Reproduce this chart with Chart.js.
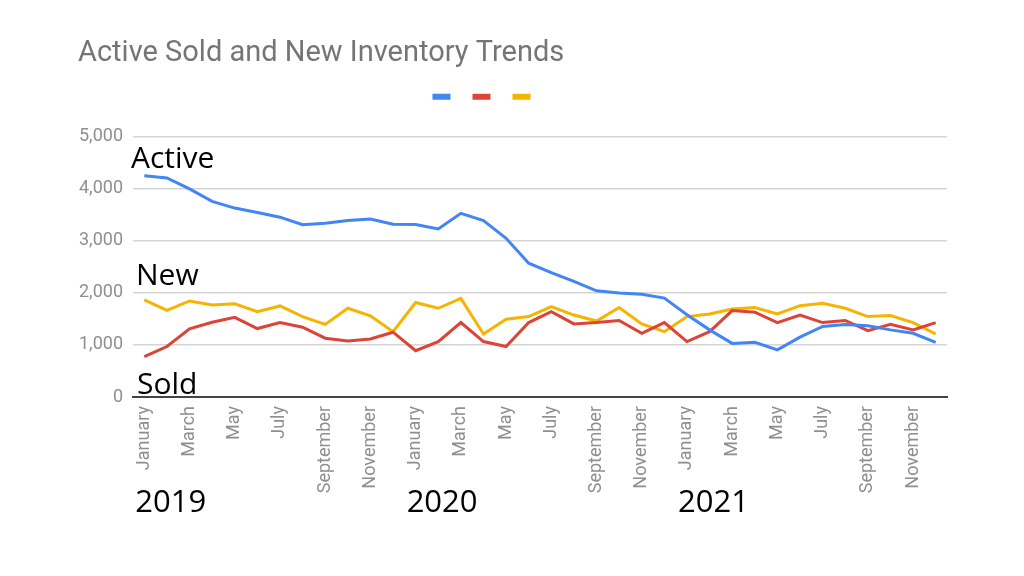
<!DOCTYPE html>
<html>
<head>
<meta charset="utf-8">
<script src="https://cdn.jsdelivr.net/npm/chart.js@4.4.1/dist/chart.umd.min.js"></script>
<style>
  html, body { margin: 0; padding: 0; background: #fff; }
  #wrap { width: 1024px; height: 576px; position: relative; }
</style>
</head>
<body>
<div id="wrap"><canvas id="grafico"></canvas></div>
<script>
const anos = ["2019", "2020", "2021"];
const meses = ["January", "February", "March", "April", "May", "June",
    "July", "August", "September", "October", "November", "December"];

const active = [4250, 4210, 4000, 3760, 3630, 3545, 3455, 3310, 3340, 3390, 3420, 3320,
    3315, 3230, 3530, 3390, 3050, 2570, 2390, 2220, 2040, 2000, 1975, 1900,
    1580, 1290, 1030, 1050, 905, 1150, 1355, 1395, 1370, 1290, 1225, 1050];
const sold = [775, 970, 1310, 1435, 1530, 1315, 1430, 1340, 1130, 1075, 1115, 1245,
    890, 1065, 1430, 1065, 970, 1430, 1640, 1405, 1430, 1470, 1225, 1430,
    1065, 1255, 1660, 1630, 1430, 1575, 1430, 1470, 1275, 1395, 1290, 1430];
const novos = [1865, 1665, 1845, 1770, 1790, 1640, 1750, 1545, 1395, 1705, 1560, 1255,
    1815, 1705, 1895, 1210, 1495, 1545, 1735, 1575, 1460, 1720, 1405, 1255,
    1545, 1595, 1690, 1720, 1595, 1755, 1800, 1705, 1545, 1565, 1430, 1210];

const yTicks = [0, 1000, 2000, 3000, 4000, 5000];

// rotulos escritos por cima do grafico
const rotulosSeries = [
    { texto: "Active", valor: 4400, dx: -2 },
    { texto: "New", valor: 2150, dx: 3 },
    { texto: "Sold", valor: 60, dx: 4 }
];

const labels = anos.flatMap(() => meses);

const cinza = "#8f8f8f";

// espaco extra abaixo da legenda e legenda um pouco para a esquerda
const ajusteLegenda = {
    id: "ajusteLegenda",
    beforeLayout(chart) {
        const legend = chart.legend;
        if (legend && !legend._ajustado) {
            const fitOriginal = legend.fit;
            legend.fit = function () {
                fitOriginal.call(this);
                this.height += 24;
            };
            legend._ajustado = true;
        }
    },
    afterLayout(chart) {
        if (chart.legend) {
            chart.legend.left -= 28;
            chart.legend.right -= 28;
        }
    }
};

const textos = {
    id: "textos",
    afterDatasetsDraw(chart) {
        const ctx = chart.ctx;
        const x = chart.scales.x;
        const y = chart.scales.y;
        const area = chart.chartArea;
        ctx.save();
        ctx.fillStyle = "#000";
        ctx.textBaseline = "alphabetic";
        ctx.textAlign = "left";
        ctx.font = "30px 'Open Sans'";
        rotulosSeries.forEach(r => {
            ctx.fillText(r.texto, area.left + r.dx, y.getPixelForValue(r.valor));
        });
        ctx.font = "31px 'Open Sans'";
        anos.forEach((ano, i) => {
            ctx.fillText(ano, x.getPixelForValue(i * 12) - 9, area.bottom + 115);
        });
        ctx.restore();
    }
};

let grafico = new Chart(document.getElementById("grafico"), {
    type: "line",
    data: {
        labels: labels,
        datasets: [{
            label: "Active",
            data: active,
            borderColor: "#4285f4",
            backgroundColor: "#4285f4"
        }, {
            label: "Sold",
            data: sold,
            borderColor: "#db4437",
            backgroundColor: "#db4437"
        }, {
            label: "New",
            data: novos,
            borderColor: "#f4b400",
            backgroundColor: "#f4b400"
        }]
    },
    options: {
        responsive: true,
        maintainAspectRatio: false,
        animation: false,
        elements: {
            line: { borderWidth: 3, tension: 0 },
            point: { radius: 0 }
        },
        layout: {
            padding: { left: 78, right: 77, top: 0, bottom: 0 }
        },
        plugins: {
            title: {
                display: true,
                text: "Active Sold and New Inventory Trends",
                align: "start",
                color: "#757575",
                font: { family: "Roboto", size: 29, weight: "normal" },
                padding: { top: 36, bottom: 4 }
            },
            legend: {
                display: true,
                labels: {
                    boxWidth: 18,
                    boxHeight: 6,
                    padding: 16,
                    font: { size: 12 },
                    generateLabels: function (chart) {
                        return Chart.defaults.plugins.legend.labels.generateLabels(chart)
                            .map(item => Object.assign(item, { text: "", lineWidth: 0 }));
                    }
                }
            },
            tooltip: { enabled: false }
        },
        scales: {
            x: {
                offset: true,
                grid: { display: false, drawTicks: false },
                border: { display: true, color: "#444", width: 2 },
                afterFit: function (scale) { scale.height = 179; },
                ticks: {
                    autoSkip: false,
                    maxRotation: 90,
                    minRotation: 90,
                    padding: 9,
                    color: cinza,
                    font: { family: "Roboto", size: 18 },
                    callback: function (value, index) {
                        return index % 2 === 0 ? labels[index] : "";
                    }
                }
            },
            y: {
                min: 0,
                max: 5000,
                afterFit: function (scale) { scale.width = 55; },
                afterBuildTicks: function (scale) {
                    scale.ticks = yTicks.map(v => ({ value: v }));
                },
                grid: { color: "#d5d5d5", lineWidth: 1.5, drawTicks: false },
                border: { display: false },
                ticks: {
                    padding: 10,
                    color: cinza,
                    font: { family: "Roboto", size: 18 },
                    callback: function (value) {
                        return value.toLocaleString("en-US");
                    }
                }
            }
        }
    },
    plugins: [ajusteLegenda, textos]
});
</script>
</body>
</html>
